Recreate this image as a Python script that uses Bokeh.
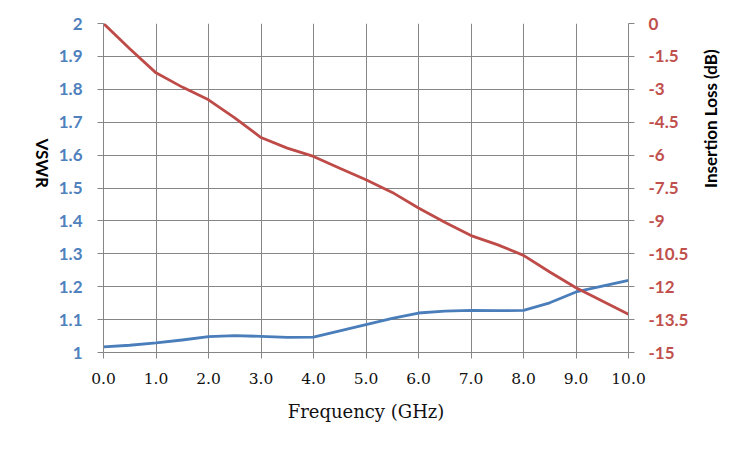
import math
from bokeh.plotting import figure
from bokeh.models import Range1d, LinearAxis, FixedTicker, NumeralTickFormatter, Label
from bokeh.embed import file_html
from bokeh.resources import INLINE

# ---- data ----
freq = [0.0, 0.5, 1.0, 1.5, 2.0, 2.5, 3.0, 3.5, 4.0, 4.5, 5.0,
        5.5, 6.0, 6.5, 7.0, 7.5, 8.0, 8.5, 9.0, 9.5, 10.0]
vswr = [1.017, 1.022, 1.029, 1.038, 1.048, 1.051, 1.049, 1.046, 1.047, 1.066, 1.085,
        1.104, 1.120, 1.126, 1.128, 1.127, 1.128, 1.151, 1.184, 1.202, 1.219]
insertion_loss = [0.0, -1.15, -2.25, -2.90, -3.48, -4.30, -5.20, -5.68, -6.06, -6.60, -7.12,
                  -7.70, -8.41, -9.06, -9.67, -10.08, -10.57, -11.33, -12.05, -12.65, -13.26]

x_ticks = [0, 1, 2, 3, 4, 5, 6, 7, 8, 9, 10]
vswr_ticks = [1.0, 1.1, 1.2, 1.3, 1.4, 1.5, 1.6, 1.7, 1.8, 1.9, 2.0]
loss_ticks = [-15.0, -13.5, -12.0, -10.5, -9.0, -7.5, -6.0, -4.5, -3.0, -1.5, 0.0]

BLUE = "#4A7EBB"
RED = "#BE4B48"
GRID = "#868686"

p = figure(width=734, height=434, output_backend="svg", toolbar_location=None,
           x_range=Range1d(0, 10), y_range=Range1d(1, 2),
           min_border_left=103, min_border_right=105, min_border_top=23, min_border_bottom=82)
p.extra_y_ranges = {"il": Range1d(-15, 0)}
p.outline_line_color = None
p.background_fill_color = "white"
p.border_fill_color = "white"

# grids
p.xgrid.ticker = FixedTicker(ticks=x_ticks)
p.ygrid.ticker = FixedTicker(ticks=vswr_ticks)
for g in (p.xgrid, p.ygrid):
    g.grid_line_color = GRID
    g.grid_line_width = 1

def style_axis(ax):
    ax.axis_line_color = GRID
    ax.major_tick_line_color = GRID
    ax.major_tick_out = 6
    ax.major_tick_in = 0
    ax.minor_tick_line_color = None

# bottom axis
xa = p.xaxis[0]
xa.ticker = FixedTicker(ticks=x_ticks)
xa.formatter = NumeralTickFormatter(format="0.0")
style_axis(xa)
xa.major_label_text_font = "DejaVu Serif"
xa.major_label_text_font_size = "15.5px"
xa.major_label_text_color = "#111111"
xa.major_label_standoff = 14
xa.axis_label = "Frequency (GHz)"
xa.axis_label_text_font = "DejaVu Serif"
xa.axis_label_text_font_size = "18px"
xa.axis_label_text_font_style = "normal"
xa.axis_label_text_color = "#111111"
xa.axis_label_standoff = 14

# left axis
ya = p.yaxis[0]
ya.ticker = FixedTicker(ticks=vswr_ticks)
ya.formatter = NumeralTickFormatter(format="0.[0]")
style_axis(ya)
ya.major_label_text_font = "Lato"
ya.major_label_text_font_style = "bold"
ya.major_label_text_font_size = "17px"
ya.major_label_text_color = "#4F81BD"
ya.major_label_standoff = 15

# right axis
ra = LinearAxis(y_range_name="il", ticker=FixedTicker(ticks=loss_ticks),
                formatter=NumeralTickFormatter(format="0.[0]"))
style_axis(ra)
ra.major_label_text_font = "Lato"
ra.major_label_text_font_style = "bold"
ra.major_label_text_font_size = "17px"
ra.major_label_text_color = "#C0504D"
ra.major_label_standoff = 14
ra.axis_label = "Insertion Loss (dB)"
ra.axis_label_text_font = "Lato"
ra.axis_label_text_font_style = "bold"
ra.axis_label_text_font_size = "17px"
ra.axis_label_text_color = "black"
ra.axis_label_standoff = 19
p.add_layout(ra, "right")

has_orient = "axis_label_orientation" in ya.properties()
if has_orient:
    ya.axis_label = "VSWR"
    ya.axis_label_text_font = "Lato"
    ya.axis_label_text_font_style = "bold"
    ya.axis_label_text_font_size = "17px"
    ya.axis_label_text_color = "black"
    ya.axis_label_standoff = 13
    ya.axis_label_orientation = -math.pi / 2
    ra.axis_label_orientation = math.pi / 2
else:
    p.add_layout(Label(x=40, y=248, x_units="screen", y_units="screen", text="VSWR",
                       angle=-math.pi / 2, text_align="center", text_baseline="middle",
                       text_font="Lato", text_font_style="bold", text_font_size="17px",
                       text_color="black"))

p.line(freq, vswr, line_color=BLUE, line_width=2.8, line_join="round", line_cap="round")
p.line(freq, insertion_loss, y_range_name="il", line_color=RED, line_width=2.8,
       line_join="round", line_cap="round")

open("out.html", "w").write(file_html(p, INLINE))
